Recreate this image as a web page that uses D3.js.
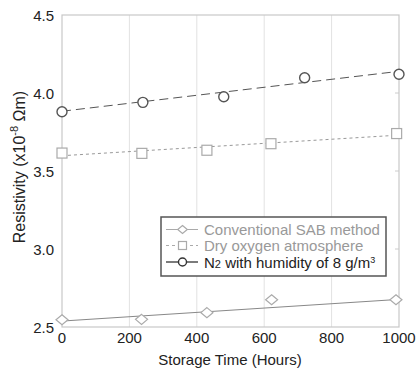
<!DOCTYPE html>
<html>
<head>
<meta charset="utf-8">
<script src="https://cdn.jsdelivr.net/npm/d3@7"></script>
<style>
  body { margin: 0; background: #fff; }
  svg { font-family: "Liberation Sans", Arial, sans-serif; }
</style>
</head>
<body>
<svg width="416" height="369"></svg>
<script>
const hoursSAB = [0, 236, 430, 622, 991];
const valuesSAB = [2.547, 2.549, 2.592, 2.675, 2.675];
const hoursO2 = [0, 237, 430, 620, 993];
const valuesO2 = [3.615, 3.613, 3.633, 3.675, 3.74];
const hoursN2 = [0, 240, 480, 720, 1000];
const valuesN2 = [3.88, 3.94, 3.976, 4.098, 4.12];

// fitted lines, end values at 0 and 1000 h
const fitHours = [0, 1000];
const fitSAB = [2.538, 2.677];
const fitO2 = [3.598, 3.73];
const fitN2 = [3.883, 4.139];

const xTicks = [0, 200, 400, 600, 800, 1000];
const yTicks = [2.5, 3.0, 3.5, 4.0, 4.5];

const svg = d3.select('svg');
const plotLeft = 62, plotRight = 399, plotTop = 15, plotBottom = 327;

const x = d3.scaleLinear().domain([0, 1000]).range([plotLeft, plotRight]);
const y = d3.scaleLinear().domain([2.5, 4.5]).range([plotBottom, plotTop]);

// grid
svg.selectAll('.grid')
  .data(xTicks.slice(1, -1))
  .enter().append('line')
  .attr('x1', d => x(d)).attr('x2', d => x(d))
  .attr('y1', plotTop).attr('y2', plotBottom)
  .attr('stroke', '#e2e2e2').attr('stroke-width', 1);

// right side inner ticks
svg.selectAll('.rtick')
  .data(yTicks.slice(1, -1))
  .enter().append('line')
  .attr('x1', plotRight - 4).attr('x2', plotRight)
  .attr('y1', d => y(d)).attr('y2', d => y(d))
  .attr('stroke', '#ccc');

svg.append('rect')
  .attr('x', plotLeft).attr('y', plotTop)
  .attr('width', plotRight - plotLeft).attr('height', plotBottom - plotTop)
  .attr('fill', 'none').attr('stroke', '#c8c8c8').attr('stroke-width', 1.2);

// tick labels
svg.selectAll('.ylab')
  .data(yTicks)
  .enter().append('text')
  .attr('x', 54).attr('y', d => y(d) + 5.5)
  .attr('text-anchor', 'end')
  .attr('font-size', 15).attr('fill', '#222')
  .text(d => d.toFixed(1));

svg.selectAll('.xlab')
  .data(xTicks)
  .enter().append('text')
  .attr('x', d => x(d)).attr('y', 343)
  .attr('text-anchor', 'middle')
  .attr('font-size', 15).attr('fill', '#222')
  .text(d => d);

svg.append('text')
  .attr('x', 230).attr('y', 365)
  .attr('text-anchor', 'middle')
  .attr('font-size', 15).attr('fill', '#222')
  .text('Storage Time (Hours)');

const yt = svg.append('text')
  .attr('transform', 'translate(25,167) rotate(-90)')
  .attr('text-anchor', 'middle')
  .attr('font-size', 16).attr('fill', '#222');
yt.append('tspan').text('Resistivity (x10');
yt.append('tspan').attr('font-size', 11).attr('dy', -7).text('-8');
yt.append('tspan').attr('dy', 7).text(' \u03A9m)');

const line = d3.line().x(d => x(d[0])).y(d => y(d[1]));

const series = [
  { hours: hoursSAB, values: valuesSAB, fit: fitSAB, marker: 'diamond', color: '#aaa', lineColor: '#888', dash: null },
  { hours: hoursO2, values: valuesO2, fit: fitO2, marker: 'square', color: '#aaa', lineColor: '#999', dash: '3,3' },
  { hours: hoursN2, values: valuesN2, fit: fitN2, marker: 'circle', color: '#555', lineColor: '#555', dash: '9,5' }
];

function drawMarker(g, type, cx, cy, color, r) {
  if (type === 'diamond') {
    g.append('path')
      .attr('d', `M${cx},${cy - r}L${cx + r * 1.2},${cy}L${cx},${cy + r}L${cx - r * 1.2},${cy}Z`)
      .attr('fill', '#fff').attr('stroke', color).attr('stroke-width', 1.2);
  } else if (type === 'square') {
    g.append('rect')
      .attr('x', cx - r).attr('y', cy - r).attr('width', 2 * r).attr('height', 2 * r)
      .attr('fill', '#fff').attr('stroke', color).attr('stroke-width', 1.2);
  } else {
    g.append('circle')
      .attr('cx', cx).attr('cy', cy).attr('r', r)
      .attr('fill', '#fff').attr('stroke', color).attr('stroke-width', 1.4);
  }
}

series.forEach(s => {
  svg.append('path')
    .datum(d3.zip(fitHours, s.fit))
    .attr('d', line)
    .attr('fill', 'none')
    .attr('stroke', s.lineColor)
    .attr('stroke-width', 1)
    .attr('stroke-dasharray', s.dash);
  const g = svg.append('g');
  s.hours.forEach((h, i) => drawMarker(g, s.marker, x(h), y(s.values[i]), s.color, 5));
});

// legend
const lg = svg.append('g');
lg.append('rect')
  .attr('x', 161).attr('y', 217).attr('width', 225).attr('height', 59)
  .attr('fill', '#fff').attr('stroke', '#555').attr('stroke-width', 1.5);

const legendNames = ['Conventional SAB method', 'Dry oxygen atmosphere', 'N2 with humidity of 8 g/m3'];
const legendColors = ['#999', '#999', '#222'];
const rowY = [229.5, 245.5, 262];

series.forEach((s, i) => {
  const ry = rowY[i];
  lg.append('line')
    .attr('x1', 166).attr('x2', 198).attr('y1', ry).attr('y2', ry)
    .attr('stroke', i === 2 ? '#333' : '#aaa').attr('stroke-width', i === 2 ? 1.3 : 1)
    .attr('stroke-dasharray', i === 1 ? '3,3' : null);
  drawMarker(lg, s.marker, 182.5, ry, i === 2 ? '#333' : '#aaa', 4);
  const t = lg.append('text')
    .attr('x', 204).attr('y', ry + 5.5)
    .attr('font-size', 15).attr('fill', legendColors[i]);
  if (i < 2) {
    t.text(legendNames[i]);
  } else {
    t.append('tspan').text('N');
    t.append('tspan').attr('font-size', 11).text('2');
    t.append('tspan').text(' with humidity of 8 g/m');
    t.append('tspan').attr('font-size', 9).attr('dy', -5).text('3');
  }
});
</script>
</body>
</html>
